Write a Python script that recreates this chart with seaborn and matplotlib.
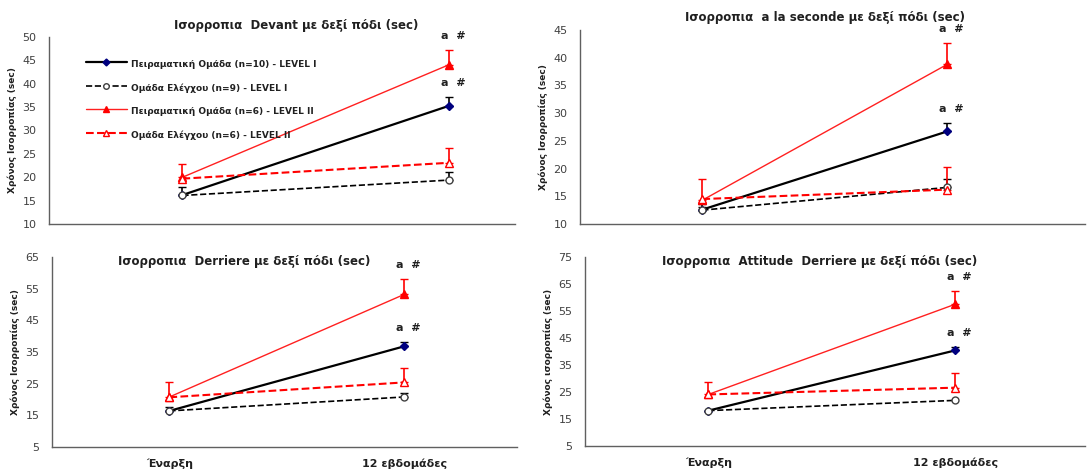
import numpy as np
import pandas as pd
import matplotlib
matplotlib.use("Agg")
import matplotlib.pyplot as plt
import seaborn as sns
from matplotlib.lines import Line2D

# ---------------- data ----------------
categories = ["Έναρξη", "12 εβδομάδες"]
series_labels = [
    "Πειραματική Ομάδα (n=10) - LEVEL I",
    "Ομάδα Ελέγχου (n=9) - LEVEL I",
    "Πειραματική Ομάδα (n=6) - LEVEL II",
    "Ομάδα Ελέγχου (n=6) - LEVEL II",
]

devant_po1 = [16.2, 35.3]; devant_po1_err = [1.8, 1.8]
devant_oe1 = [16.1, 19.4]; devant_oe1_err = [0.0, 1.8]
devant_po2 = [20.0, 44.1]; devant_po2_err = [2.8, 3.2]
devant_oe2 = [19.7, 23.1]; devant_oe2_err = [0.0, 3.1]

seconde_po1 = [12.6, 26.7]; seconde_po1_err = [1.0, 1.5]
seconde_oe1 = [12.5, 16.6]; seconde_oe1_err = [0.5, 1.5]
seconde_po2 = [14.3, 38.8]; seconde_po2_err = [3.9, 3.8]
seconde_oe2 = [14.5, 16.2]; seconde_oe2_err = [0.0, 4.0]

derriere_po1 = [16.4, 36.8]; derriere_po1_err = [1.3, 1.5]
derriere_oe1 = [16.4, 20.8]; derriere_oe1_err = [0.0, 1.4]
derriere_po2 = [20.8, 53.2]; derriere_po2_err = [4.8, 4.7]
derriere_oe2 = [20.7, 25.4]; derriere_oe2_err = [0.0, 4.7]

attitude_po1 = [18.1, 40.4]; attitude_po1_err = [0.0, 1.4]
attitude_oe1 = [18.1, 21.9]; attitude_oe1_err = [0.0, 0.0]
attitude_po2 = [24.1, 57.5]; attitude_po2_err = [4.7, 4.8]
attitude_oe2 = [24.1, 26.6]; attitude_oe2_err = [0.0, 5.3]

titles = [
    "Ισορροπια  Devant με δεξί πόδι (sec)",
    "Ισορροπια  a la seconde με δεξί πόδι (sec)",
    "Ισορροπια  Derriere με δεξί πόδι (sec)",
    "Ισορροπια  Attitude  Derriere με δεξί πόδι (sec)",
]
ylabels = [
    "Χρόνος Ισορροπίας (sec)",
    "Χρόνος Ισορροπίας (sec)",
    "Χρόνος Ισορροπίας (sec)",
    "Χρόνος ισορροπίας (sec)",
]
yticks_list = [
    list(range(10, 51, 5)),
    list(range(10, 46, 5)),
    list(range(5, 66, 10)),
    list(range(5, 76, 10)),
]
annot_text = "a  #"

panels_values = [
    [devant_po1, devant_oe1, devant_po2, devant_oe2],
    [seconde_po1, seconde_oe1, seconde_po2, seconde_oe2],
    [derriere_po1, derriere_oe1, derriere_po2, derriere_oe2],
    [attitude_po1, attitude_oe1, attitude_po2, attitude_oe2],
]
panels_errs = [
    [devant_po1_err, devant_oe1_err, devant_po2_err, devant_oe2_err],
    [seconde_po1_err, seconde_oe1_err, seconde_po2_err, seconde_oe2_err],
    [derriere_po1_err, derriere_oe1_err, derriere_po2_err, derriere_oe2_err],
    [attitude_po1_err, attitude_oe1_err, attitude_po2_err, attitude_oe2_err],
]

# ---------------- style ----------------
sns.set_style("white")
plt.rcParams["font.family"] = ["DejaVu Sans"]

W, H = 1089, 472
fig = plt.figure(figsize=(W / 100, H / 100), dpi=100)

def px_axes(left, top, right, bottom):
    return fig.add_axes([left / W, 1 - bottom / H, (right - left) / W, (bottom - top) / H])

# pixel boxes: left, top, right, bottom
boxes = [
    (49, 37, 515, 224),
    (580, 30, 1085, 224),
    (52, 257, 517, 447),
    (585, 257, 1085, 446),
]
xright = [1.246, 1.563, 1.48, 1.526]
title_pos = [(296, 26), (825, 18), (244, 262), (820, 261)]

styles = [
    dict(color="black", ls="-", lw=1.6, marker="D", ms=4.5, mfc="#00007f", mec="#00007f", ecolor="black"),
    dict(color="black", ls="--", lw=1.2, marker="o", ms=5, mfc="white", mec="#404040", ecolor="black"),
    dict(color="#ff2020", ls="-", lw=1.0, marker="^", ms=5.5, mfc="#ff0000", mec="#ff0000", ecolor="#ff0000"),
    dict(color="#ff0000", ls="--", lw=1.5, marker="^", ms=5.5, mfc="white", mec="#ff0000", ecolor="#ff0000"),
]

x = np.array([0, 1])
for p in range(4):
    ax = px_axes(*boxes[p])
    for s in range(4):
        st = styles[s]
        vals = np.array(panels_values[p][s], dtype=float)
        errs = np.array(panels_errs[p][s], dtype=float)
        df = pd.DataFrame({"x": x, "y": vals})
        mask = errs > 0
        if mask.any():
            ax.errorbar(x[mask], vals[mask], yerr=[np.zeros(mask.sum()), errs[mask]],
                        fmt="none", ecolor=st["ecolor"], elinewidth=1.2, capsize=3,
                        capthick=1.0, zorder=2)
        sns.lineplot(data=df, x="x", y="y", ax=ax, color=st["color"], linestyle=st["ls"],
                     linewidth=st["lw"], marker=st["marker"], markersize=st["ms"],
                     markerfacecolor=st["mfc"], markeredgecolor=st["mec"], markeredgewidth=1.0,
                     zorder=3)
    # annotations above experimental groups at 12 weeks
    for s in (0, 2):
        vals = panels_values[p][s]
        errs = panels_errs[p][s]
        ax.annotate(annot_text, (1, vals[1] + errs[1]), xytext=(4, 14), textcoords="offset pixels",
                    ha="center", va="center", fontsize=8, fontweight="bold", color="#202020")

    ax.set_xlim(-0.5, xright[p])
    yt = yticks_list[p]
    ax.set_ylim(yt[0], yt[-1])
    ax.set_yticks(yt)
    ax.set_xticks([0.5])
    ax.set_xticklabels([])
    ax.set_xticks([0, 1], minor=True)
    if p >= 2:
        ax.set_xticklabels(categories, minor=True, fontsize=8, fontweight="bold", color="#202020")
    else:
        ax.set_xticklabels([], minor=True)
    ax.tick_params(axis="x", which="minor", length=0, pad=8)
    ax.tick_params(axis="x", which="major", length=4, width=0.8, color="#606060", direction="out")
    ax.tick_params(axis="y", length=3, width=0.8, color="#606060", labelsize=8, labelcolor="#404040", pad=6)
    ax.set_xlabel("")
    ax.set_ylabel(ylabels[p], fontsize=6.5, fontweight="bold", color="#202020", labelpad=4)
    for side in ("top", "right"):
        ax.spines[side].set_visible(False)
    for side in ("left", "bottom"):
        ax.spines[side].set_color("#606060")
        ax.spines[side].set_linewidth(1.0)
    fig.text(title_pos[p][0] / W, 1 - title_pos[p][1] / H, titles[p], ha="center", va="center",
             fontsize=8.5, fontweight="bold", color="#202020")

    if p == 0:
        handles = []
        for s in range(4):
            st = styles[s]
            handles.append(Line2D([0], [0], color=st["color"], ls=st["ls"], lw=st["lw"],
                                  marker=st["marker"], ms=st["ms"] - 1, mfc=st["mfc"], mec=st["mec"]))
        leg = ax.legend(handles, series_labels, loc="upper left",
                        bbox_to_anchor=((80 - 49) / (515 - 49), (224 - 52) / (224 - 37)),
                        frameon=False, handlelength=3.0, handletextpad=0.3,
                        labelspacing=0.85, borderaxespad=0)
        for t in leg.get_texts():
            t.set_fontsize(6.5)
            t.set_fontweight("bold")
            t.set_color("#202020")

fig.savefig("out.png", dpi=100)
